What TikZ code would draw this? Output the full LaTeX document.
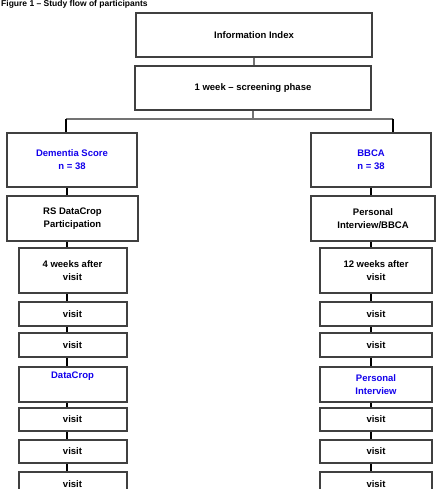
\documentclass[tikz,border=0pt]{standalone}
\usepackage{fontspec}
\setmainfont{Liberation Sans}
\usepackage{tikz}
\usetikzlibrary{positioning}
\colorlet{boxline}{black!75}
\colorlet{armtext}{blue!85!violet}
\colorlet{barline}{black!55}

\begin{document}
\begin{tikzpicture}[x=1pt, y=-1pt,
    box/.style={draw=boxline, line width=2pt, fill=white, align=center, inner sep=2pt,
      font=\fontsize{9.5}{13}\selectfont\bfseries},
    armbox/.style={box, text=armtext},
    link/.style={line width=1.6pt, black},
    bar/.style={line width=1.4pt, barline}]
    \useasboundingbox (0,0) rectangle (436,489);

    % header
    \node[anchor=base west, inner sep=0pt, font=\fontsize{8.5}{10}\selectfont\bfseries] (title) at (1,7) {Figure 1 -- Study flow of participants};
    \node[box, minimum width=236pt, minimum height=44pt] (index) at (254,35) {Information Index};
    \node[box, minimum width=236pt, minimum height=44pt] (screen) at (253,88) {1 week -- screening phase};

    % split and column lines
    \coordinate (split) at (253,119);
    \coordinate (lend) at (66,119);
    \coordinate (rend) at (393,119);
    \coordinate (lcol) at (67,0);
    \coordinate (rcol) at (371,0);

    % left arm
    \node[armbox, minimum width=130pt, minimum height=54pt] (darm) at (72,160) {Dementia Score\\ n = 38};
    \node[box, minimum width=131pt, minimum height=45pt] (dpart) at (72.5,218.5) {RS DataCrop\\ Participation};
    \node[box, minimum width=108pt, minimum height=45pt] (dv1) at (72.5,270.5) {4 weeks after\\ visit};
    \node[box, minimum width=108pt, minimum height=24pt] (dv2) at (72.5,314) {visit};
    \node[box, minimum width=108pt, minimum height=24pt] (dv3) at (72.5,345) {visit};
    \node[armbox, minimum width=108pt, minimum height=35pt, text height=8pt, text depth=20pt] (dcrop) at (72.5,384.5) {DataCrop};
    \node[box, minimum width=108pt, minimum height=23pt] (dv4) at (72.5,419.5) {visit};
    \node[box, minimum width=108pt, minimum height=23pt] (dv5) at (72.5,451.5) {visit};
    \node[box, minimum width=108pt, minimum height=24pt] (dv6) at (72.5,484) {visit};

    % right arm
    \node[armbox, minimum width=120pt, minimum height=54pt] (barm) at (371,160) {BBCA\\ n = 38};
    \node[box, minimum width=124pt, minimum height=45pt] (bpart) at (373,218.5) {Personal\\ Interview/BBCA};
    \node[box, minimum width=112pt, minimum height=45pt] (bv1) at (376,270.5) {12 weeks after\\ visit};
    \node[box, minimum width=112pt, minimum height=24pt] (bv2) at (376,314) {visit};
    \node[box, minimum width=112pt, minimum height=24pt] (bv3) at (376,345) {visit};
    \node[armbox, minimum width=112pt, minimum height=35pt] (bpers) at (376,384.5) {Personal\\ Interview};
    \node[box, minimum width=112pt, minimum height=23pt] (bv4) at (376,419.5) {visit};
    \node[box, minimum width=112pt, minimum height=23pt] (bv5) at (376,451.5) {visit};
    \node[box, minimum width=112pt, minimum height=24pt] (bv6) at (376,484) {visit};

    % connectors
    \draw[bar] (index.south) -- (screen.north -| index.south);
    \draw[bar] (screen.south) -- (split);
    \draw[bar] (lend) -- (rend);
    \draw[link] (lend) -- (lend |- darm.north);
    \draw[link] (rend) -- (rend |- barm.north);
    \draw[link] (lcol |- darm.south) -- (lcol |- dpart.north);
    \draw[link] (lcol |- dpart.south) -- (lcol |- dv1.north);
    \draw[link] (lcol |- dv1.south) -- (lcol |- dv2.north);
    \draw[link] (lcol |- dv2.south) -- (lcol |- dv3.north);
    \draw[link] (lcol |- dv3.south) -- (lcol |- dcrop.north);
    \draw[link] (lcol |- dcrop.south) -- (lcol |- dv4.north);
    \draw[link] (lcol |- dv4.south) -- (lcol |- dv5.north);
    \draw[link] (lcol |- dv5.south) -- (lcol |- dv6.north);
    \draw[link] (rcol |- barm.south) -- (rcol |- bpart.north);
    \draw[link] (rcol |- bpart.south) -- (rcol |- bv1.north);
    \draw[link] (rcol |- bv1.south) -- (rcol |- bv2.north);
    \draw[link] (rcol |- bv2.south) -- (rcol |- bv3.north);
    \draw[link] (rcol |- bv3.south) -- (rcol |- bpers.north);
    \draw[link] (rcol |- bpers.south) -- (rcol |- bv4.north);
    \draw[link] (rcol |- bv4.south) -- (rcol |- bv5.north);
    \draw[link] (rcol |- bv5.south) -- (rcol |- bv6.north);
\end{tikzpicture}
\end{document}
